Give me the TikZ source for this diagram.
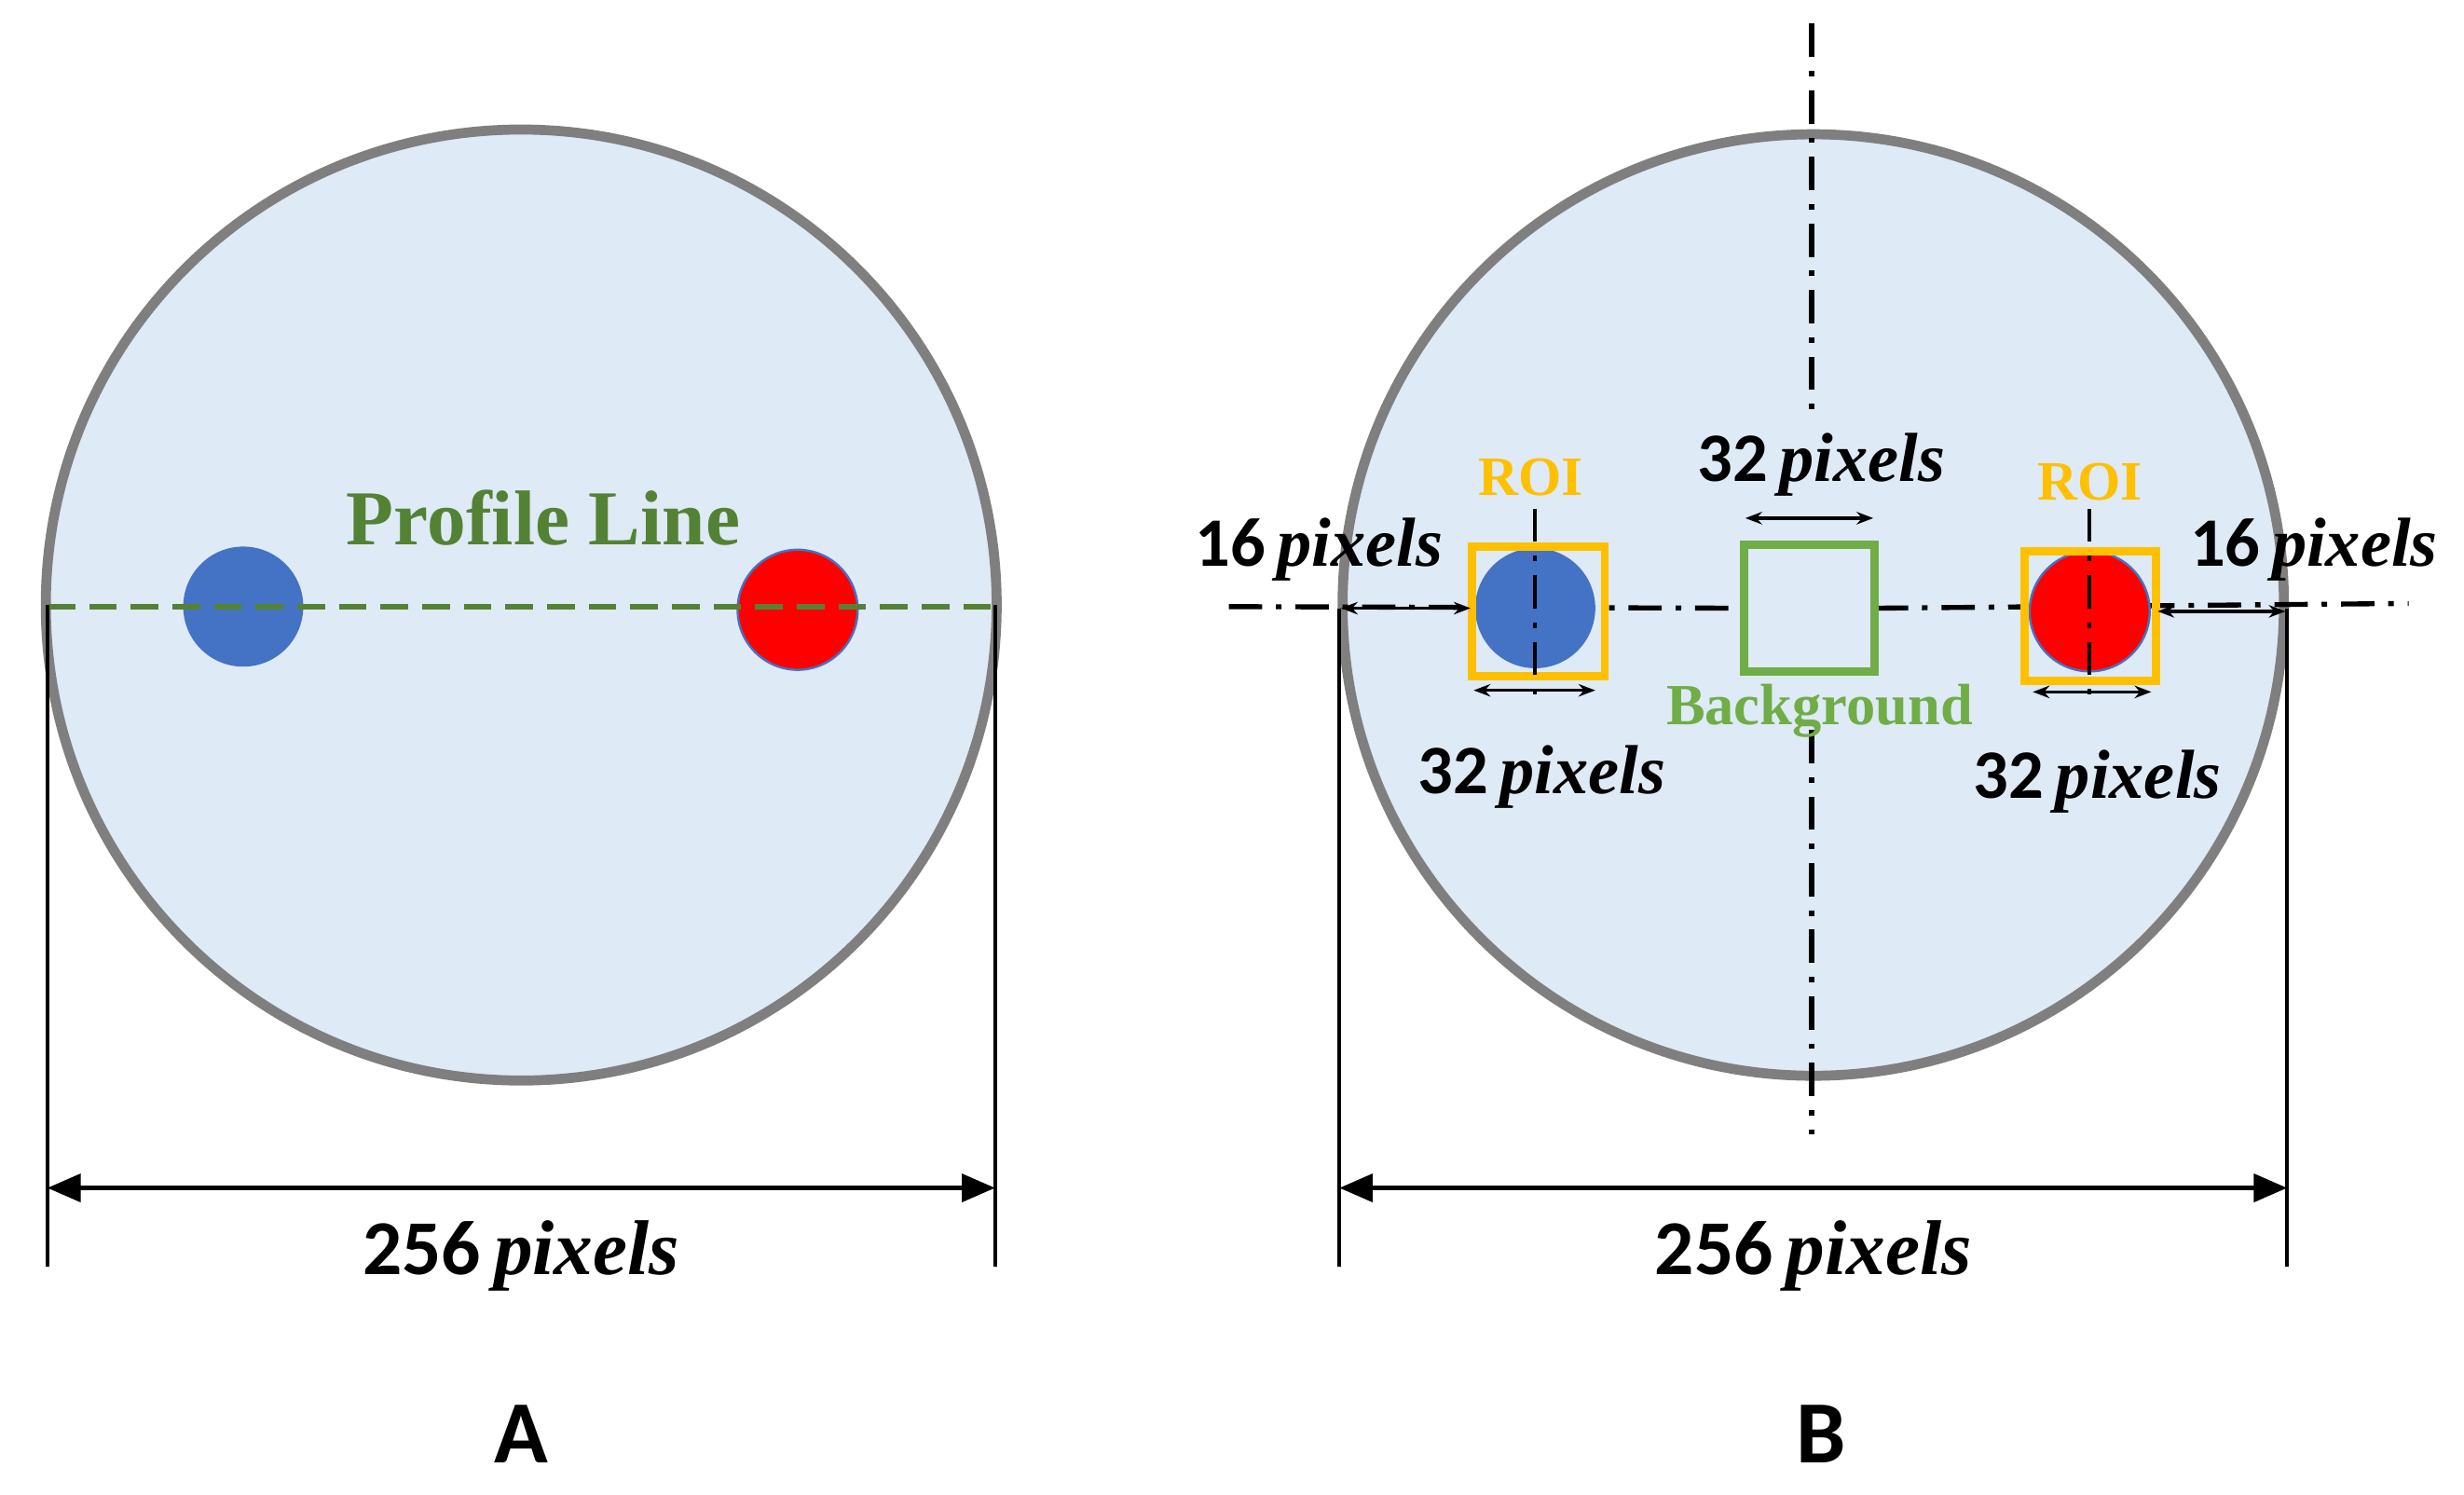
\documentclass[tikz,border=0pt]{standalone}
\usepackage{fontspec}
\setmainfont{Liberation Serif}
\newfontfamily\numf{Carlito}
\usetikzlibrary{arrows.meta}
\definecolor{bg}{HTML}{DEEAF6}
\definecolor{ring}{HTML}{7F7F7F}
\definecolor{dblue}{HTML}{4472C4}
\definecolor{dgreen}{HTML}{548235}
\definecolor{lgreen}{HTML}{70AD47}
\definecolor{roiy}{HTML}{FFC000}
\newcommand{\px}[2]{{\fontsize{#1}{#1}\selectfont\numf\bfseries #2\,}{\fontsize{#1}{#1}\selectfont\bfseries\itshape pixels}}
\begin{document}
\begin{tikzpicture}[x=0.02cm,y=-0.02cm,
  dim/.style={line width=1.5pt},
  darr/.style={line width=1.5pt,{Triangle[length=12pt,width=10pt]}-{Triangle[length=12pt,width=10pt]}},
  sarr/.style={line width=1.2pt,{Stealth[length=6pt]}-{Stealth[length=6pt]}},
  dd/.style={line width=1.8pt,dash pattern=on 12pt off 5pt on 2pt off 5pt},
  lbl/.style={inner sep=0pt}]
\useasboundingbox (0,0) rectangle (1560,946);
% ---- A ----
\draw[ring,fill=bg,line width=3.6pt] (330,383) circle (301);
\fill[dblue] (154,384) circle (38);
\draw[fill=red,draw=dblue,line width=0.8pt] (505,386) circle (38);
\coordinate (al) at (30,384); \coordinate (ar) at (630,384);
\draw[dgreen,line width=2.2pt,dash pattern=on 10pt off 5pt] (al) -- (ar);
\node[lbl,text=dgreen] (pl) at (344,328) {\fontsize{28}{28}\selectfont\bfseries Profile Line};
\coordinate (a1) at (30,383); \coordinate (a2) at (30,802);
\coordinate (a3) at (630,383); \coordinate (a4) at (630,802);
\draw[dim] (a1)--(a2); \draw[dim] (a3)--(a4);
\coordinate (aa) at (30,752); \coordinate (ab) at (630,752);
\draw[darr] (aa)--(ab);
\node[lbl] (at) at (330,795) {\px{28}{256}};
\node[lbl] (A) at (330,908) {\fontsize{32}{32}\selectfont\numf\bfseries A};
% ---- B ----
\draw[ring,fill=bg,line width=3.6pt] (1148,383) circle (298);
\draw[dd] (1147,15)--(1147,262);
\draw[dd] (1147,462)--(1147,718);
\draw[dd] (778,384)--(1104,385);
\draw[dd] (1187,385)--(1525,382);
\fill[dblue] (972,385) circle (38);
\draw[fill=red,draw=dblue,line width=0.8pt] (1323,387) circle (38);
\draw[roiy,line width=3pt] (932,346) rectangle (1016,428);
\draw[roiy,line width=3pt] (1282,349) rectangle (1365,431);
\draw[lgreen,line width=3pt] (1104,345) rectangle (1187,425);
\draw[dd,line width=1.3pt] (972,322)--(972,442);
\draw[dd,line width=1.3pt] (1323,322)--(1323,442);
\node[lbl,text=roiy] (r1) at (969,302) {\fontsize{20}{20}\selectfont\bfseries ROI};
\node[lbl,text=roiy] (r2) at (1323,305) {\fontsize{20}{20}\selectfont\bfseries ROI};
\node[lbl,text=lgreen] (bgt) at (1152,450) {\fontsize{21}{21}\selectfont\bfseries Background};
\node[lbl] (t1) at (1153,294) {\px{25}{32}};
\draw[sarr] (1105,328)--(1186,328);
\draw[sarr] (933,437)--(1010,437);
\draw[sarr] (1287,438)--(1362,438);
\node[lbl] (t2) at (976,492) {\px{25}{32}};
\node[lbl] (t3) at (1328,495) {\px{25}{32}};
\node[lbl] (t4) at (835,348) {\px{25}{16}};
\node[lbl] (t5) at (1465,348) {\px{25}{16}};
\draw[sarr] (849,385)--(931,385);
\draw[sarr] (1366,387)--(1447,387);
\draw[dim] (848,385)--(848,802); \draw[dim] (1448,385)--(1448,802);
\draw[darr] (848,752)--(1448,752);
\node[lbl] (bt) at (1148,795) {\px{28}{256}};
\node[lbl] (B) at (1153,908) {\fontsize{32}{32}\selectfont\numf\bfseries B};
\end{tikzpicture}
\end{document}
